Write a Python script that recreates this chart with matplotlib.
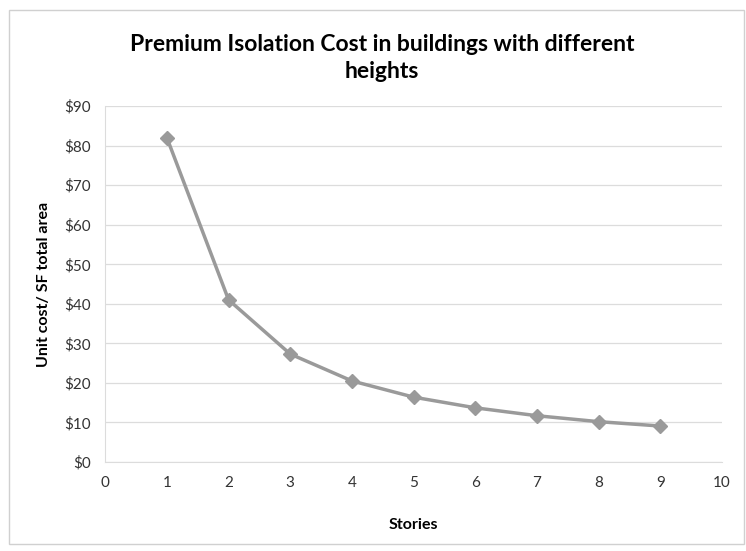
import matplotlib.pyplot as plt
from matplotlib.patches import Rectangle

# data
stories = [1, 2, 3, 4, 5, 6, 7, 8, 9]
unit_cost = [82, 41, 27.3, 20.5, 16.4, 13.7, 11.7, 10.2, 9.1]
y_ticks = list(range(0, 91, 10))
x_ticks = list(range(0, 11))

plt.rcParams['font.family'] = ['Lato', 'DejaVu Sans']

fig = plt.figure(figsize=(7.46, 5.51), dpi=100)
ax = fig.add_axes([0.141, 0.1615, 0.827, 0.646])

ax.plot(stories, unit_cost, color='#9a9a9a', linewidth=2.5,
        marker='D', markersize=7, markerfacecolor='#9a9a9a', markeredgecolor='#9a9a9a')

ax.set_xlim(0, 10)
ax.set_ylim(0, 90)
ax.set_xticks(x_ticks)
ax.set_yticks(y_ticks)
ax.set_yticklabels([f'${v}' for v in y_ticks])
ax.tick_params(length=0, labelsize=11, colors='#333333', pad=10)
ax.grid(axis='y', color='#dcdcdc', linewidth=0.9)
ax.set_axisbelow(True)
for s in ['top', 'right']:
    ax.spines[s].set_visible(False)
for s in ['left', 'bottom']:
    ax.spines[s].set_color('#dcdcdc')

ax.set_xlabel('Stories', fontsize=11.5, fontweight='bold', labelpad=20)
ax.set_ylabel('Unit cost/ SF total area', fontsize=11.5, fontweight='bold', labelpad=10)

fig.text(0.512, 0.895, 'Premium Isolation Cost in buildings with different\nheights',
         ha='center', va='center', fontsize=16.5, fontweight='bold', linespacing=1.35)

# light border around the chart area
fig.patches.append(Rectangle((0.012, 0.012), 0.985, 0.97, transform=fig.transFigure,
                             fill=False, edgecolor='#d0d0d0', linewidth=1))

fig.savefig('out.png', dpi=100)
